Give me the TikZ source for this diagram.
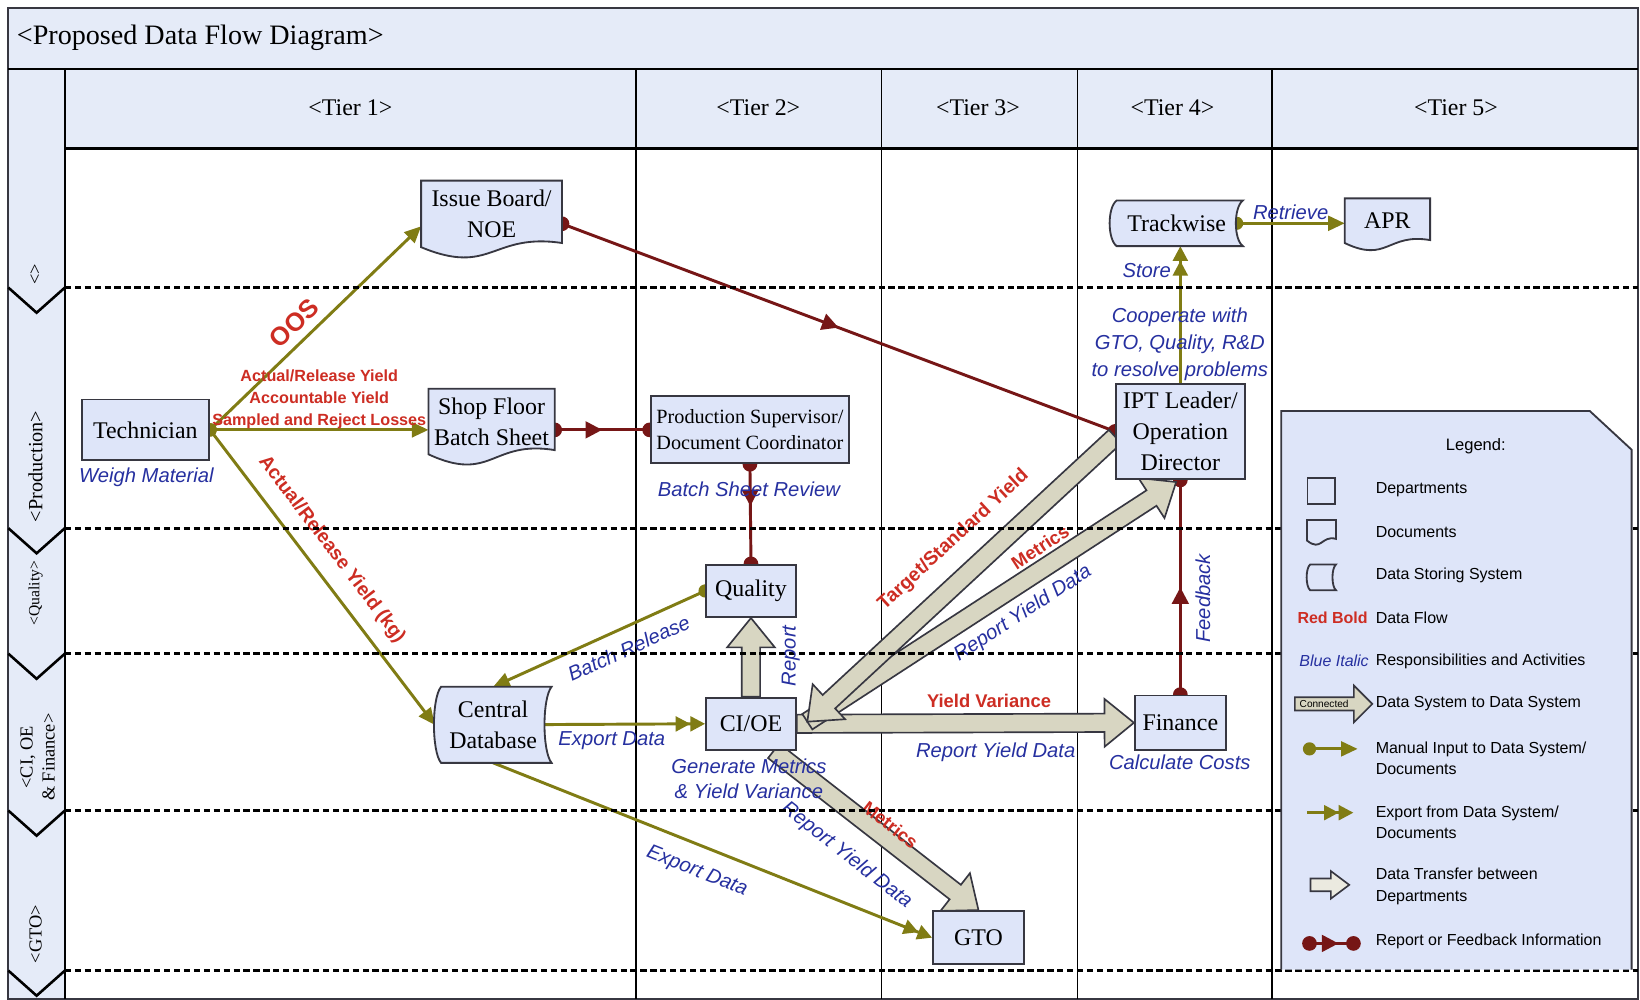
\documentclass[tikz,border=0pt]{standalone}
\usepackage{fontspec}
\setmainfont{Liberation Serif}
\setsansfont{Liberation Sans}
\usepackage{tikz}
\usetikzlibrary{calc,arrows.meta,decorations.markings}
\definecolor{mfill}{RGB}{222,229,249}
\definecolor{mhead}{RGB}{229,235,248}
\definecolor{mline}{RGB}{55,55,65}
\definecolor{molive}{RGB}{128,124,20}
\definecolor{mdred}{RGB}{118,22,22}
\definecolor{mred}{RGB}{205,45,35}
\definecolor{mblue}{RGB}{38,48,160}
\definecolor{mbeige}{RGB}{216,214,194}

\pgfdeclarelayer{grid}
\pgfdeclarelayer{edges}
\pgfdeclarelayer{lanes}
\pgfdeclarelayer{shapes}
\pgfsetlayers{grid,edges,lanes,shapes,main}

\tikzset{
  dept/.style={rectangle, draw=mline, fill=mfill, line width=1pt, align=center,
    inner sep=1pt, font=\fontsize{13}{17}\selectfont},
  docbox/.style={rectangle, align=center, inner sep=1pt, font=\fontsize{13}{17}\selectfont},
  bluelbl/.style={text=mblue, align=center, font=\sffamily\itshape\fontsize{11}{14}\selectfont},
  redlbl/.style={text=mred, align=center, font=\sffamily\bfseries\fontsize{10}{12}\selectfont},
  legtxt/.style={anchor=west, align=left, inner sep=0pt, font=\sffamily\fontsize{8.7}{11.5}\selectfont},
  tier/.style={font=\fontsize{13}{15}\selectfont},
  lanetag/.style={rotate=90, align=center, font=\fontsize{10}{12}\selectfont},
  lane/.style={line width=1.8pt, dash pattern=on 3.4pt off 2pt},
  manual/.style={draw=molive, line width=1.6pt, -{Triangle[length=9pt,width=8pt]},
    postaction={decorate},
    decoration={markings, mark=at position 0 with {\fill[molive] (0,0) circle (3.6pt);}}},
  export/.style={draw=molive, line width=1.6pt,
    -{Triangle[length=8pt,width=8pt]Triangle[length=8pt,width=8pt]}},
  report/.style={draw=mdred, line width=1.6pt, postaction={decorate},
    decoration={markings,
      mark=at position 0 with {\fill[mdred] (0,0) circle (4pt);},
      mark=at position #1 with {\arrow[mdred]{Triangle[length=9pt,width=9pt]}},
      mark=at position 1 with {\fill[mdred] (0,0) circle (4pt);}}},
  report/.default=0.5,
  bigarr/.style={draw=mline, fill=mbeige, line width=0.9pt},
}

% document outline (wavy bottom) under a borderless node
\newcommand{\docshape}[2][1]{%
  \filldraw[fill=mfill, draw=mline, line width=1pt]
    (#2.north west) -- (#2.north east) -- ($(#2.south east)+(0,-4*#1)$)
    .. controls ($(#2.south)+(0,-14*#1)$) and ($(#2.south)+(0,28*#1)$) .. (#2.south west) -- cycle;}
% data store outline (curved sides)
\newcommand{\storeshape}[2][1]{%
  \filldraw[fill=mfill, draw=mline, line width=1pt]
    ($(#2.north west)+(6*#1,0)$) -- (#2.north east)
    .. controls ($(#2.east)!0.7!(#2.north east)+(-9*#1,0)$) and ($(#2.east)!0.7!(#2.south east)+(-9*#1,0)$) .. (#2.south east)
    -- ($(#2.south west)+(6*#1,0)$)
    .. controls ($(#2.west)!0.7!(#2.south west)+(-3*#1,0)$) and ($(#2.west)!0.7!(#2.north west)+(-3*#1,0)$) .. ($(#2.north west)+(6*#1,0)$) -- cycle;}
% block arrow: [style]{from}{to}{half shaft}{half head}{head length}
\newcommand{\blkarrow}[6][]{%
  \coordinate (hb) at ($(#3)!#6!(#2)$);
  \draw[bigarr,#1] ($(#2)!#4!90:(#3)$) -- ($(hb)!#4!90:(#3)$) -- ($(hb)!#5!90:(#3)$) -- (#3)
    -- ($(hb)!#5!-90:(#3)$) -- ($(hb)!#4!-90:(#3)$) -- ($(#2)!#4!-90:(#3)$) -- cycle;}

\begin{document}
\begin{tikzpicture}[x=0.02cm, y=-0.02cm]
\useasboundingbox (0,0) rectangle (1568,956);

\begin{pgfonlayer}{grid}
  \fill[white] (0,0) rectangle (1568,956);
  \fill[mhead] (8,8) rectangle (1566,142);
  \fill[mhead] (8,66) rectangle (62,955);
  \draw[mline, line width=1.1pt] (8,8) rectangle (1566,955);
  \draw[line width=1.6pt] (8,66) -- (1566,66);
  \draw[line width=1.2pt] (62,142) -- (1566,142);
  \draw[line width=1pt] (62,66) -- (62,955);
  \foreach \x in {608,843,1030,1216}
    \draw[line width=0.8pt] (\x,66) -- (\x,955);
\end{pgfonlayer}
\begin{pgfonlayer}{lanes}
  \foreach \y in {275,505,625,775,928} {
    \draw[lane] (62,\y) -- (1566,\y);
    \draw[line width=1.4pt] (8,\y) -- (35,\y+24) -- (62,\y);
  }
\end{pgfonlayer}

\node[anchor=west, font=\fontsize{15.3}{18}\selectfont] (title) at (10,36) {<Proposed Data Flow Diagram>};
\node[tier] (tier1) at (335,103) {<Tier 1>};
\node[tier] (tier2) at (725,103) {<Tier 2>};
\node[tier] (tier3) at (935,103) {<Tier 3>};
\node[tier] (tier4) at (1121,103) {<Tier 4>};
\node[tier] (tier5) at (1392,103) {<Tier 5>};

\node[lanetag] (lane0) at (34,262) {<>};
\node[lanetag, font=\fontsize{11}{13}\selectfont] (lane1) at (34,446) {<Production>};
\node[lanetag, font=\fontsize{8.5}{10}\selectfont] (lane2) at (34,567) {<Quality>};
\node[lanetag] (lane3) at (36,724) {<CI, OE\\\& Finance>};
\node[lanetag] (lane4) at (34,893) {<GTO>};

\node[dept, minimum width=2.44cm, minimum height=1.16cm] (tech) at (139,411) {Technician};
\node[docbox, minimum width=2.68cm, minimum height=1.26cm] (issue) at (470,204.5) {Issue Board/\\NOE};
\node[docbox, minimum width=2.4cm, minimum height=1.24cm] (shop) at (470,403) {Shop Floor\\Batch Sheet};
\node[dept, minimum width=3.8cm, minimum height=1.28cm, font=\fontsize{11}{14}\selectfont] (prodsup) at (717,411) {Production Supervisor/\\Document Coordinator};
\node[dept, minimum width=1.72cm, minimum height=1cm] (qual) at (718,565) {Quality};
\node[docbox, minimum width=2.22cm, minimum height=1.44cm] (cdb) at (471.5,693) {Central\\Database};
\node[dept, minimum width=1.72cm, minimum height=1cm] (cioe) at (718,692) {CI/OE};
\node[dept, minimum width=1.74cm, minimum height=1.04cm] (fin) at (1128.5,691) {Finance};
\node[dept, minimum width=1.74cm, minimum height=1.02cm] (gto) at (935.5,896.5) {GTO};
\node[dept, minimum width=2.46cm, minimum height=1.82cm] (ipt) at (1128.5,412.5) {IPT Leader/\\Operation\\Director};
\node[docbox, minimum width=2.52cm, minimum height=0.86cm] (track) at (1125,213.5) {Trackwise};
\node[docbox, minimum width=1.62cm, minimum height=0.84cm] (apr) at (1326.5,211) {APR};

\node[bluelbl] (weigh) at (140,456) {Weigh Material};
\node[bluelbl] (review) at (716,468) {Batch Sheet Review};
\node[bluelbl] (genmet) at (716,744.5) {Generate Metrics\\\& Yield Variance};
\node[bluelbl] (costs) at (1128,729) {Calculate Costs};
\node[bluelbl, font=\sffamily\itshape\fontsize{11}{14.7}\selectfont] (coop) at (1128,329) {Cooperate with\\GTO, Quality, R\&D\\to resolve problems};
\node[bluelbl, rotate=90] (replbl) at (756,627) {Report};
\node[bluelbl, rotate=90] (feedback) at (1150,572) {Feedback};

% legend
\node[font=\sffamily\fontsize{9}{11}\selectfont] (legtitle) at (1411,427) {Legend:};
\node[dept, minimum width=0.52cm, minimum height=0.5cm] (legdept) at (1263,469.5) {};
\node[docbox, minimum width=0.54cm, minimum height=0.38cm] (legdoc) at (1263.5,507) {};
\node[docbox, minimum width=0.54cm, minimum height=0.48cm] (legstore) at (1263.5,552) {};
\node[legtxt] (legt1) at (1315,468) {Departments};
\node[legtxt] (legt2) at (1315,509) {Documents};
\node[legtxt] (legt3) at (1315,550) {Data Storing System};
\node[anchor=east, inner sep=0pt, text=mred, font=\sffamily\bfseries\fontsize{8.7}{10}\selectfont] (legred) at (1308,591) {Red Bold};
\node[legtxt] (legt4) at (1315,591) {Data Flow};
\node[anchor=east, inner sep=0pt, text=mblue, font=\sffamily\itshape\fontsize{8.7}{10}\selectfont] (legblue) at (1309,632) {Blue Italic};
\node[legtxt] (legt5) at (1315,632) {Responsibilities and Activities};
\node[legtxt] (legt6) at (1315,673) {Data System to Data System};
\node[legtxt] (legt7) at (1315,725) {Manual Input to Data System/\\Documents};
\node[legtxt] (legt8) at (1315,786.5) {Export from Data System/\\Documents};
\node[legtxt] (legt9) at (1315,847.5) {Data Transfer between\\Departments};
\node[legtxt] (legt10) at (1315,900) {Report or Feedback Information};

\coordinate (legc1) at (1238,673);
\coordinate (legc2) at (1312,673);
\blkarrow{legc1}{legc2}{3.6pt}{10pt}{10pt}
\node[inner sep=0pt, font=\sffamily\fontsize{5.5}{6}\selectfont] (legconn) at (1266,673) {Connected};
\coordinate (legm1) at (1252,716);
\coordinate (legm2) at (1298,716);
\draw[manual] (legm1) -- (legm2);
\coordinate (lege1) at (1250,777);
\coordinate (lege2) at (1294,777);
\draw[export] (lege1) -- (lege2);
\coordinate (legd1) at (1253,846);
\coordinate (legd2) at (1290,846);
\blkarrow[fill=mbeige!50!white]{legd1}{legd2}{3.5pt}{7.5pt}{10pt}
\coordinate (legr1) at (1252,902);
\coordinate (legr2) at (1294,902);
\draw[report=0.66] (legr1) -- (legr2);

\begin{pgfonlayer}{shapes}
  \docshape{issue}
  \docshape{shop}
  \docshape[0.7]{apr}
  \storeshape{cdb}
  \storeshape{track}
  \fill[mfill] (1225,393) -- (1520,393) -- (1560,430) -- (1560,927) -- (1225,927) -- cycle;
  \draw[mline, line width=1pt] (1225,927) -- (1225,393) -- (1520,393) -- (1560,430) -- (1560,927);
  \docshape[0.4]{legdoc}
  \storeshape[0.5]{legstore}
\end{pgfonlayer}

\begin{pgfonlayer}{edges}
  \draw[manual] (tech.east) -- (issue.190)
    node[redlbl, pos=0.46, sloped, above=1pt, font=\sffamily\bfseries\fontsize{14}{16}\selectfont] (oos) {OOS};
  \draw[manual] (tech.east) -- (tech.east -| shop.west)
    node[redlbl, pos=0.5, above, inner sep=0pt, font=\sffamily\bfseries\fontsize{8.8}{11.8}\selectfont] (yields) {Actual/Release Yield\\Accountable Yield\\Sampled and Reject Losses};
  \draw[manual] (tech.east) -- (cdb.west)
    node[redlbl, pos=0.456, sloped, above=4pt, font=\sffamily\bfseries\fontsize{10.5}{12}\selectfont] (kg) {Actual/Release Yield (kg)};
  \draw[report] (issue.-8) -- (ipt.west);
  \draw[report] (shop.east |- prodsup.west) -- (prodsup.west);
  \draw[report=0.42] (prodsup.south) -- (qual.north);
  \draw[manual] (qual.west) -- (cdb.north)
    node[bluelbl, pos=0.4, sloped, below=3pt] (batchrel) {Batch Release};
  \draw[export] (cdb.center) -- (cioe.west)
    node[bluelbl, pos=0.56, below] (export1) {Export Data};
  \draw[export] (cdb.south) -- (gto.west)
    node[bluelbl, pos=0.486, sloped, below=5pt] (export2) {Export Data};
  \draw[report] (fin.north) -- (ipt.south);
  \draw[export] (ipt.north) -- (ipt.north |- track.south)
    node[bluelbl, pos=0.82, left=1pt] (store) {Store};
  \draw[manual] ($(track.east)+(-6,0)$) -- (track.east -| apr.west)
    node[bluelbl, midway, above=-2pt] (retrieve) {Retrieve};

  \coordinate (hub) at ($(cioe.east)+(10,-2)$);
  \coordinate (iptout) at ($(ipt.west)+(0,5)$);
  \coordinate (iptin) at ($(ipt.south)+(-4,2)$);
  \blkarrow{cioe.north}{qual.south}{5pt}{13pt}{16pt}
  \blkarrow{cioe.east}{fin.west}{5pt}{13pt}{16pt}
  \blkarrow{cioe.-50}{gto.north}{5pt}{13pt}{16pt}
  \blkarrow{hub}{iptin}{5pt}{13pt}{16pt}
  \blkarrow{iptout}{hub}{5pt}{13pt}{16pt}
  \path (iptout) -- (hub)
    node[redlbl, pos=0.45, sloped, above=10pt, font=\sffamily\bfseries\fontsize{10.5}{12}\selectfont] (target) {Target/Standard Yield};
  \path (hub) -- (iptin)
    node[redlbl, pos=0.66, sloped, above=3.5pt] (metrics1) {Metrics}
    node[bluelbl, pos=0.545, sloped, below=6pt] (ryd1) {Report Yield Data};
  \path (cioe.east) -- (fin.west)
    node[redlbl, pos=0.57, above=5pt] (variance) {Yield Variance}
    node[bluelbl, pos=0.59, below=7pt] (ryd2) {Report Yield Data};
  \path (cioe.-50) -- (gto.north)
    node[redlbl, pos=0.53, sloped, above=0pt] (metrics2) {Metrics}
    node[bluelbl, pos=0.47, sloped, below=12pt] (ryd3) {Report Yield Data};
\end{pgfonlayer}
\end{tikzpicture}
\end{document}
